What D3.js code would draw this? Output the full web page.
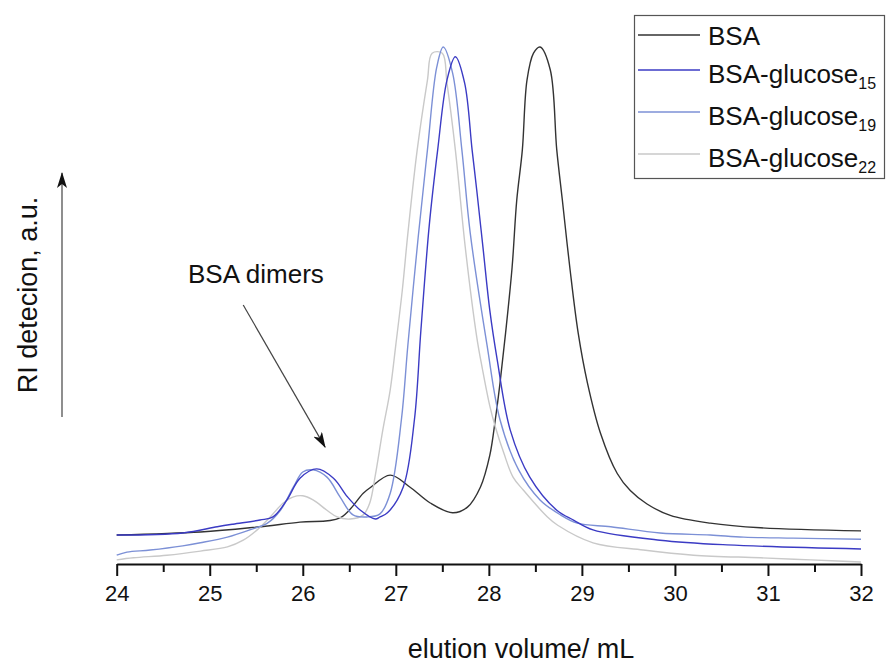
<!DOCTYPE html>
<html>
<head>
<meta charset="utf-8">
<script src="https://d3js.org/d3.v7.min.js"></script>
<style>
  body { margin:0; background:#fff; }
  text { font-family: "Liberation Sans", Arial, sans-serif; fill:#111; }
</style>
</head>
<body>
<script>
// elution volume (mL), RI signal (a.u., BSA main peak = 100)
var bsa = [[24.00,5.6],[24.90,6.2],[25.43,7.0],[25.97,8.1],[26.40,8.9],[26.65,13.7],[26.72,14.7],[26.94,17.2],
  [27.15,14.9],[27.37,11.8],[27.61,9.9],[27.77,11.0],[27.91,14.9],[28.01,21.0],[28.07,28.0],[28.12,35.0],
  [28.18,44.7],[28.25,57.4],[28.30,70.4],[28.36,80.1],[28.41,93.6],[28.48,98.8],[28.55,100],[28.66,95.6],
  [28.73,80.1],[28.79,70.4],[28.87,57.4],[28.96,44.7],[29.06,35.0],[29.20,25.3],[29.38,17.5],[29.52,14.2],
  [29.70,11.6],[29.95,9.4],[30.38,7.9],[30.92,7.0],[32.00,6.4]];

var glc15 = [[24.00,5.6],[24.71,6.0],[25.08,7.2],[25.25,7.7],[25.54,8.5],[25.68,9.1],[25.83,12.4],[25.97,16.6],
  [26.15,18.4],[26.33,16.6],[26.48,13.0],[26.62,10.4],[26.78,8.7],[26.83,9.1],[26.91,9.9],[27.08,14.9],
  [27.20,27.9],[27.27,45.3],[27.36,65.6],[27.45,80.1],[27.55,93.6],[27.64,98.1],[27.74,93.0],[27.82,80.1],
  [27.87,72.3],[27.94,60.7],[28.01,49.1],[28.09,39.5],[28.23,25.9],[28.44,16.8],[28.73,10.4],
  [28.91,8.5],[29.12,6.6],[29.84,4.6],[30.56,3.7],[32.00,2.9]];

var glc19 = [[24.00,1.7],[24.11,2.3],[24.36,2.7],[24.71,3.5],[24.90,4.1],[25.19,5.2],[25.43,6.6],[25.62,7.9],
  [25.76,10.4],[25.90,14.9],[26.00,17.8],[26.11,18.2],[26.26,16.8],[26.40,13.0],[26.54,9.5],[26.69,9.1],
  [26.83,9.7],[26.94,13.7],[27.06,27.9],[27.13,42.4],[27.24,63.1],[27.34,80.1],[27.44,96.1],[27.51,100],
  [27.61,95.0],[27.71,80.1],[27.80,64.0],[27.98,42.4],[28.12,27.9],[28.32,18.2],[28.55,12.4],[28.77,9.5],
  [28.95,7.9],[29.31,7.2],[29.84,6.0],[30.38,5.6],[30.74,5.2],[31.27,5.0],[32.00,4.8]];

var glc22 = [[24.00,0.8],[24.18,1.2],[24.54,1.7],[24.90,2.5],[25.19,3.3],[25.36,4.6],[25.51,6.6],[25.65,9.1],
  [25.79,11.8],[25.90,13.0],[26.00,13.2],[26.11,12.4],[26.26,10.4],[26.37,9.1],[26.51,8.7],[26.65,9.5],
  [26.72,11.8],[26.78,17.2],[26.86,25.9],[26.94,33.7],[27.00,42.4],[27.07,53.0],[27.13,64.0],[27.23,80.1],
  [27.34,93.6],[27.39,98.8],[27.50,98.8],[27.55,93.0],[27.64,80.1],[27.75,60.7],[27.87,43.9],[27.93,37.8],
  [28.01,30.6],[28.07,26.5],[28.16,21.5],[28.26,16.8],[28.37,14.3],[28.63,9.1],[28.74,7.5],[29.12,4.1],
  [29.66,2.7],[30.20,1.7],[30.92,1.2],[31.46,0.8],[32.00,0.4]];

var names = ["BSA", "BSA-glucose", "BSA-glucose", "BSA-glucose"];
var subs = ["", "15", "19", "22"];
var xTicks = [24, 25, 26, 27, 28, 29, 30, 31, 32];

var series = [
  {data: bsa, color: "#333333"},
  {data: glc22, color: "#c9c9c9"},
  {data: glc19, color: "#7c90d6"},
  {data: glc15, color: "#3b3bc4"}
];
var legendColors = ["#333333", "#3b3bc4", "#7c90d6", "#c9c9c9"];

var svg = d3.select("body").append("svg")
  .attr("width", 886).attr("height", 664);

var x = d3.scaleLinear().domain([24, 32]).range([116.7, 861]);
var y = d3.scaleLinear().domain([0, 100]).range([564, 47]);

var line = d3.line()
  .x(function(d) { return x(d[0]); })
  .y(function(d) { return y(d[1]); })
  .curve(d3.curveCatmullRom.alpha(0.5));

svg.selectAll("path.curve")
  .data(series)
  .enter().append("path")
  .attr("class", "curve")
  .attr("d", function(d) { return line(d.data); })
  .attr("fill", "none")
  .attr("stroke", function(d) { return d.color; })
  .attr("stroke-width", 1.4);

// x axis
var gx = svg.append("g").attr("transform", "translate(0," + y(0) + ")");
gx.call(d3.axisBottom(x).tickValues(xTicks).tickSize(12).tickSizeOuter(0).tickPadding(9))
  .call(function(g) {
    g.select(".domain").attr("stroke", "#111").attr("stroke-width", 2);
    g.selectAll(".tick line").attr("stroke", "#111").attr("stroke-width", 2);
    g.selectAll(".tick text").style("font-size", "22px").attr("fill", "#111");
  });
svg.append("g").attr("transform", "translate(0," + y(0) + ")")
  .call(d3.axisBottom(x).tickValues(d3.range(24.5, 32, 1)).tickSize(8).tickSizeOuter(0).tickFormat(""))
  .call(function(g) {
    g.select(".domain").remove();
    g.selectAll(".tick line").attr("stroke", "#111").attr("stroke-width", 2);
  });

svg.append("text")
  .attr("x", 521).attr("y", 658)
  .attr("text-anchor", "middle")
  .attr("font-size", 27)
  .text("elution volume/ mL");

// y label + arrow
svg.append("text")
  .attr("transform", "translate(37,295) rotate(-90)")
  .attr("text-anchor", "middle")
  .attr("font-size", 27)
  .text("RI detecion, a.u.");

var defs = svg.append("defs");
defs.append("marker")
  .attr("id", "head")
  .attr("viewBox", "0 0 16 10")
  .attr("refX", 15).attr("refY", 5)
  .attr("markerWidth", 16).attr("markerHeight", 10)
  .attr("markerUnits", "userSpaceOnUse")
  .attr("orient", "auto")
  .append("path")
  .attr("d", "M0,0 L16,5 L0,10 L4,5 Z")
  .attr("fill", "#111");

svg.append("line")
  .attr("x1", 62).attr("y1", 417).attr("x2", 62).attr("y2", 173)
  .attr("stroke", "#444").attr("stroke-width", 1.2)
  .attr("marker-end", "url(#head)");

// annotation
svg.append("text")
  .attr("x", 188).attr("y", 283)
  .attr("font-size", 26)
  .text("BSA dimers");
svg.append("line")
  .attr("x1", x(25.36)).attr("y1", y(50.1))
  .attr("x2", x(26.24)).attr("y2", y(22.6))
  .attr("stroke", "#444").attr("stroke-width", 1.2)
  .attr("marker-end", "url(#head)");

// legend
var lg = svg.append("g");
lg.append("rect")
  .attr("x", 634.5).attr("y", 15.5).attr("width", 250).attr("height", 163)
  .attr("fill", "#fff").attr("stroke", "#555").attr("stroke-width", 1.2);
var rowY = names.map(function(n, i) { return i === 0 ? 35 : 70 + (i - 1) * 42; });
names.forEach(function(n, i) {
  lg.append("line")
    .attr("x1", 638).attr("x2", 700).attr("y1", rowY[i]).attr("y2", rowY[i])
    .attr("stroke", legendColors[i]).attr("stroke-width", 1.4);
  var t = lg.append("text")
    .attr("x", 708).attr("y", rowY[i] + (i === 0 ? 10 : 13))
    .attr("font-size", 26)
    .text(n);
  if (subs[i]) {
    t.append("tspan").attr("font-size", 16).attr("dy", 6).text(subs[i]);
  }
});
</script>
</body>
</html>
